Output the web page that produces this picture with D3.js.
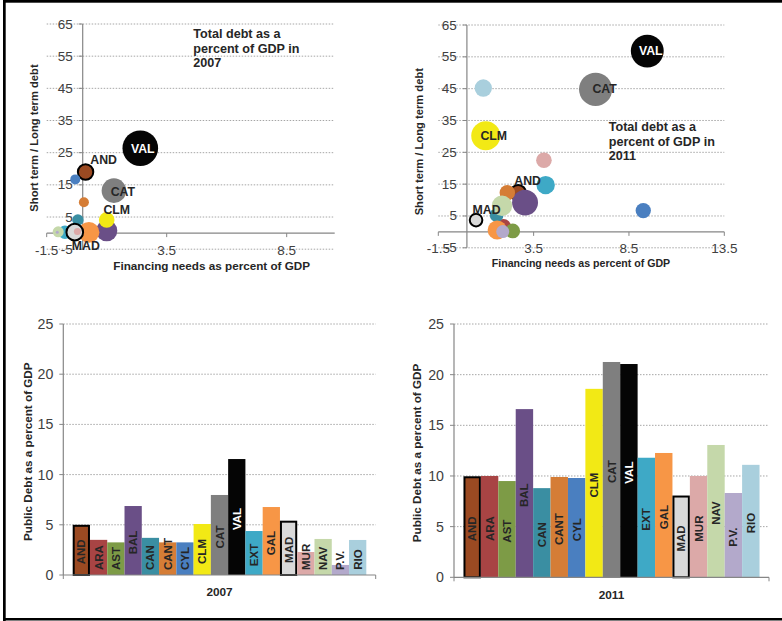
<!DOCTYPE html>
<html><head><meta charset="utf-8">
<script src="https://cdn.jsdelivr.net/npm/d3@7"></script>
<style>
body{margin:0;background:#fff}
svg{display:block}
text{font-family:"Liberation Sans",Arial,sans-serif}
</style>
</head><body>
<svg id="c" width="782" height="621"></svg>
<script>
// ---------------- DATA ----------------
const regions = ["AND","ARA","AST","BAL","CAN","CANT","CYL","CLM","CAT","VAL","EXT","GAL","MAD","MUR","NAV","P.V.","RIO"];
const regionColors = ["#9B4A22","#A84444","#7D9B46","#6A4F87","#3A8EA2","#D57D36","#4A7FC0","#F2E915","#7F7F7F","#050505","#3EA9C6","#F79646","#D9D9D9","#DCA9A8","#C5D8AA","#B3A9CB","#A9CFDD"];
const outlined = ["AND","MAD"];

// Public (total) debt as % of GDP
const debt2007 = [5.0,3.5,3.25,6.87,3.7,3.25,3.25,5.08,7.97,11.55,4.38,6.77,5.41,2.29,3.59,1.0,3.49];
const debt2011 = [9.97,10.0,9.5,16.6,8.8,9.9,9.8,18.6,21.25,21.05,11.8,12.27,8.07,10.0,13.06,8.32,11.1];

// Financing needs as % of GDP (x) and short/long term debt ratio (y)
const financing2007 = [0.12,0.35,0.95,1.0,-0.2,0.05,-0.31,1.0,1.3,2.4,-0.74,0.26,-0.33,-0.22,-1.02,-1.06,-2.0];
const shortLong2007 = [19.0,0.5,0.5,0.75,4.1,9.6,16.7,4.1,13.2,26.4,0.25,0.25,0.3,0.5,0.4,0.25,0.3];
const financing2011 = [2.69,1.91,2.40,3.05,1.56,2.12,9.25,0.99,6.75,9.46,4.13,1.59,0.48,4.04,1.84,1.88,0.86];
const shortLong2011 = [12.3,1.6,0.3,9.2,5.3,12.3,6.7,30.2,44.8,56.8,14.7,0.6,3.7,22.5,8.2,0.1,45.2];

const scatterYTicks = [-5,5,15,25,35,45,55,65];
const xTicks2007 = [-1.5,3.5,8.5];
const xTicks2011 = [-1.5,3.5,8.5,13.5];
const barYTicks = [0,5,10,15,20,25];

const labeled2007 = ["VAL","AND","CAT","CLM","MAD"];
const labeled2011 = ["VAL","CAT","CLM","AND","MAD"];

// ---------------- STYLE / LAYOUT ----------------
const labelOffsets2007 = {VAL:[2.5,0.5],AND:[18,-12],CAT:[9,1],CLM:[10,-9.5],MAD:[11,13.5]};
const labelOffsets2011 = {VAL:[3.5,0],CAT:[9,0],CLM:[8,0],AND:[9.5,-11.5],MAD:[10.5,-10.5]};
const colorOf = d3.scaleOrdinal().domain(regions).range(regionColors);
const gridColor = "#A6A6A6", axisColor = "#868686", tickText = "#404040", titleText = "#262626";

const svg = d3.select("#c");
svg.append("rect").attr("width",782).attr("height",621).attr("fill","#fff");

function scatter(cfg){
  const g = svg.append("g");
  const x = d3.scaleLinear().domain(cfg.xDomain).range(cfg.xRange);
  const y = d3.scaleLinear().domain([-5,65]).range(cfg.yRange);
  const r = d3.scaleLinear().domain([0,d3.max(cfg.size)]).range([0,cfg.rmax]);
  // grid
  g.selectAll("line.grid").data(scatterYTicks).join("line")
    .attr("x1",cfg.xRange[0]).attr("x2",cfg.xRange[1])
    .attr("y1",d=>y(d)).attr("y2",d=>y(d))
    .attr("stroke",gridColor).attr("stroke-width",1).attr("stroke-dasharray","1.5,1.5");
  // y axis
  const ax = x(0);
  g.append("line").attr("x1",ax).attr("x2",ax).attr("y1",y(-5)).attr("y2",y(65))
    .attr("stroke",axisColor).attr("stroke-width",1.2);
  g.selectAll("line.yt").data(scatterYTicks).join("line")
    .attr("x1",ax-4).attr("x2",ax).attr("y1",d=>y(d)).attr("y2",d=>y(d)).attr("stroke",axisColor);
  g.selectAll("text.yl").data(scatterYTicks).join("text")
    .attr("x",ax-10).attr("y",d=>y(d)).attr("text-anchor","end").attr("dominant-baseline","central")
    .attr("font-size",13.5).attr("fill",tickText).text(d=>d);
  // x axis
  g.append("line").attr("x1",cfg.xRange[0]).attr("x2",cfg.xRange[1]).attr("y1",y(0)).attr("y2",y(0))
    .attr("stroke",axisColor).attr("stroke-width",1.2);
  g.selectAll("line.xt").data(cfg.xTicks).join("line")
    .attr("x1",d=>x(d)).attr("x2",d=>x(d)).attr("y1",y(0)).attr("y2",y(0)+4).attr("stroke",axisColor);
  g.selectAll("text.xl").data(cfg.xTicks).join("text")
    .attr("x",d=>x(d)).attr("y",y(-5)+1).attr("text-anchor","middle").attr("dominant-baseline","central")
    .attr("font-size",13.5).attr("fill",tickText).text(d=>d);
  // clip
  const cid = "clip"+cfg.id;
  svg.append("clipPath").attr("id",cid).append("rect")
    .attr("x",cfg.xRange[0]).attr("y",cfg.yRange[1]).attr("width",cfg.xRange[1]-cfg.xRange[0]).attr("height",cfg.yRange[0]-cfg.yRange[1]);
  const pts = regions.map((name,i)=>({name,fx:cfg.fin[i],fy:cfg.st[i],s:cfg.size[i]}));
  g.append("g").attr("clip-path",`url(#${cid})`).selectAll("circle").data(pts).join("circle")
    .attr("cx",d=>x(d.fx)).attr("cy",d=>y(d.fy)).attr("r",d=>r(d.s))
    .attr("fill",d=>colorOf(d.name))
    .attr("stroke",d=>outlined.includes(d.name)?"#000":"none")
    .attr("stroke-width",2);
  // bubble labels
  g.selectAll("text.bl").data(pts.filter(d=>cfg.labeled.includes(d.name))).join("text")
    .attr("x",d=>x(d.fx)+cfg.offsets[d.name][0]).attr("y",d=>y(d.fy)+cfg.offsets[d.name][1])
    .attr("text-anchor","middle").attr("dominant-baseline","central")
    .attr("font-size",12.3).attr("font-weight","bold")
    .attr("fill",d=>d.name==="VAL"?"#fff":titleText).text(d=>d.name);
  // titles
  g.append("text").attr("transform",`translate(${cfg.yTitle[0]},${cfg.yTitle[1]}) rotate(-90)`)
    .attr("text-anchor","middle").attr("dominant-baseline","central")
    .attr("font-size",11.2).attr("font-weight","bold").attr("fill",titleText).text("Short term / Long term debt");
  g.append("text").attr("x",cfg.xTitle[0]).attr("y",cfg.xTitle[1])
    .attr("text-anchor","middle").attr("dominant-baseline","central")
    .attr("font-size",cfg.xTitleSize).attr("font-weight","bold").attr("fill",titleText).text("Financing needs as percent of GDP");
  const lines = ["Total debt as a","percent of GDP in",cfg.year];
  g.selectAll("text.note").data(lines).join("text")
    .attr("x",cfg.note[0]).attr("y",(d,i)=>cfg.note[1]+i*14.5)
    .attr("dominant-baseline","central").attr("font-size",12.6).attr("font-weight","bold")
    .attr("fill",titleText).text(d=>d);
}

scatter({id:"a",xDomain:[-1.5,10.5],xRange:[46.7,334.7],yRange:[249.2,24.0],
  fin:financing2007,st:shortLong2007,size:debt2007,rmax:17.8,xTicks:xTicks2007,
  labeled:labeled2007,offsets:labelOffsets2007,yTitle:[34.3,138],xTitle:[211.7,265.7],xTitleSize:11.7,
  note:[193.3,34.3],year:"2007"});
scatter({id:"b",xDomain:[-1.5,13.5],xRange:[438.3,724.3],yRange:[247.8,25.0],
  fin:financing2011,st:shortLong2011,size:debt2011,rmax:16.6,xTicks:xTicks2011,
  labeled:labeled2011,offsets:labelOffsets2011,yTitle:[419.3,141.7],xTitle:[581,263.3],xTitleSize:10.6,
  note:[608.7,127.3],year:"2011"});

function bars(cfg){
  const g = svg.append("g");
  const y = d3.scaleLinear().domain([0,25]).range(cfg.yRange);
  const x0 = d3.scaleBand().domain([cfg.year]).range(cfg.xRange).paddingInner(0).paddingOuter(0.032);
  const x1 = d3.scaleBand().domain(regions).range([0,x0.bandwidth()]).padding(0);
  const left = cfg.xRange[0], right = cfg.xRange[1];
  g.selectAll("line.grid").data(barYTicks.filter(d=>d>0)).join("line")
    .attr("x1",left).attr("x2",right).attr("y1",d=>y(d)).attr("y2",d=>y(d))
    .attr("stroke",gridColor).attr("stroke-dasharray","1.5,1.5");
  g.append("line").attr("x1",left).attr("x2",left).attr("y1",y(0)).attr("y2",y(25)).attr("stroke",axisColor).attr("stroke-width",1.2);
  g.selectAll("line.yt").data(barYTicks).join("line")
    .attr("x1",left-4).attr("x2",left).attr("y1",d=>y(d)).attr("y2",d=>y(d)).attr("stroke",axisColor);
  g.selectAll("text.yl").data(barYTicks).join("text")
    .attr("x",left-10).attr("y",d=>y(d)).attr("text-anchor","end").attr("dominant-baseline","central")
    .attr("font-size",14.2).attr("fill",tickText).text(d=>d);
  const pts = regions.map((name,i)=>({name,v:cfg.values[i]}));
  const bx = d=>x0(cfg.year)+x1(d.name);
  g.selectAll("rect.bar").data(pts).join("rect")
    .attr("x",d=>bx(d)+(outlined.includes(d.name)?1:0)).attr("y",d=>y(d.v)+(outlined.includes(d.name)?1:0))
    .attr("width",d=>x1.bandwidth()-(outlined.includes(d.name)?2:0))
    .attr("height",d=>y(0)-y(d.v)-(outlined.includes(d.name)?1:0))
    .attr("fill",d=>colorOf(d.name))
    .attr("stroke",d=>outlined.includes(d.name)?"#000":"none").attr("stroke-width",2);
  g.append("line").attr("x1",left).attr("x2",right).attr("y1",y(0)).attr("y2",y(0)).attr("stroke",axisColor).attr("stroke-width",1.2);
  g.selectAll("line.xt").data([left,right]).join("line")
    .attr("x1",d=>d).attr("x2",d=>d).attr("y1",y(0)).attr("y2",y(0)+4).attr("stroke",axisColor);
  // labels
  const lab = g.selectAll("text.bl").data(pts).join("text")
    .attr("text-anchor","middle").attr("dominant-baseline","central")
    .attr("font-size",11.5).attr("font-weight","bold")
    .attr("fill",d=>d.name==="VAL"?"#fff":titleText).text(d=>d.name);
  lab.each(function(d){
    const len = this.getComputedTextLength();
    const cx = bx(d)+x1.bandwidth()/2;
    const cy = Math.min((y(d.v)+y(0))/2+2, y(0)-5-len/2);
    d3.select(this).attr("transform",`translate(${cx},${cy}) rotate(-90)`);
  });
  g.append("text").attr("transform",`translate(${cfg.yTitle[0]},${cfg.yTitle[1]}) rotate(-90)`)
    .attr("text-anchor","middle").attr("dominant-baseline","central")
    .attr("font-size",11.7).attr("font-weight","bold").attr("fill",titleText).text("Public Debt as a percent of GDP");
  g.append("text").attr("x",(left+right)/2).attr("y",cfg.xTitleY)
    .attr("text-anchor","middle").attr("dominant-baseline","central")
    .attr("font-size",11.8).attr("font-weight","bold").attr("fill",titleText).text(cfg.year);
}

bars({year:"2007",values:debt2007,xRange:[63.3,375.7],yRange:[575,324],yTitle:[27.3,451.7],xTitleY:592});
bars({year:"2011",values:debt2011,xRange:[454,769],yRange:[577.3,324],yTitle:[416.7,453],xTitleY:595});

// outer frame
svg.append("rect").attr("x",3).attr("y",0).attr("width",779).attr("height",2.7).attr("fill","#000");
svg.append("rect").attr("x",3).attr("y",0).attr("width",2.7).attr("height",621).attr("fill","#000");
svg.append("rect").attr("x",3).attr("y",618).attr("width",779).attr("height",2.5).attr("fill","#000");
</script>
</body></html>
